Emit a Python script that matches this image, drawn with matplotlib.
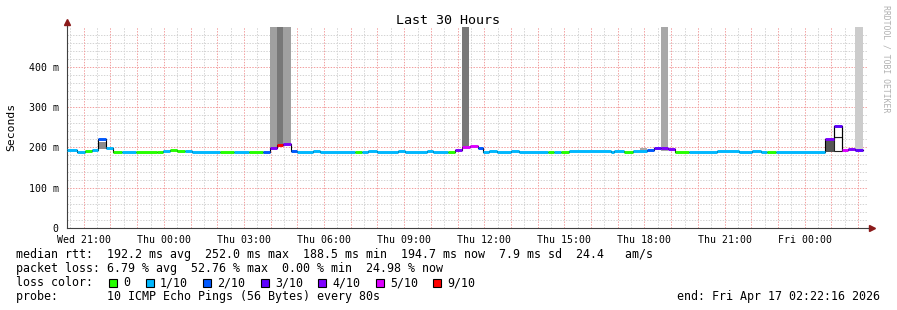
import numpy as np
import matplotlib.pyplot as plt
from matplotlib.ticker import FixedLocator, MultipleLocator, FuncFormatter

plt.rcParams['font.family'] = ['DejaVu Sans Mono']

W, H = 897, 310

# time axis: hours after the start of the window (Wed 20:22:16), 30 h span
start_clock = 20 + 22/60 + 16/3600
span = 30.0

# median rtt segments: start (h), median (ms), index into the loss colours
seg_t = [0.00, 0.37, 0.67, 0.94, 1.16, 1.46, 1.72, 2.06, 2.58, 3.37,
         3.60, 3.86, 4.12, 4.42, 4.68, 5.73, 6.25, 6.82, 7.34, 7.60,
         7.87, 8.09, 8.39, 8.61, 9.21, 9.48, 10.79, 11.05, 11.27, 11.61,
         12.40, 12.66, 13.48, 13.71, 14.27, 14.53, 14.79, 15.09, 15.39, 15.58,
         15.81, 16.10, 16.63, 16.93, 18.01, 18.24, 18.50, 18.80, 20.37, 20.49,
         20.86, 21.20, 21.72, 21.99, 22.25, 22.51, 22.77, 23.30, 24.34, 25.17,
         25.66, 25.99, 26.22, 26.55, 28.39, 28.73, 29.03, 29.25, 29.51]
seg_ms = [193.8, 189.0, 191.0, 194.0, 222.0, 198.0, 189.0, 189.0, 189.0, 188.5,
          191.0, 194.0, 191.0, 191.0, 189.0, 189.0, 189.0, 189.0, 189.0, 199.0,
          206.0, 209.0, 191.0, 189.0, 191.0, 189.0, 189.0, 189.0, 191.0, 189.0,
          191.0, 189.0, 191.0, 189.0, 189.0, 194.0, 201.0, 204.0, 198.0, 189.0,
          191.0, 189.0, 191.0, 189.0, 189.0, 189.0, 189.0, 191.0, 189.0, 191.0,
          189.0, 191.0, 194.0, 199.0, 198.0, 196.0, 189.0, 189.0, 191.0, 189.0,
          190.0, 188.5, 188.5, 189.0, 222.0, 252.0, 194.0, 196.0, 194.7]
seg_loss = [1, 1, 0, 1, 2, 1, 0, 1, 0, 0,
            1, 0, 0, 1, 1, 0, 1, 0, 2, 4,
            6, 4, 2, 1, 1, 1, 0, 1, 1, 1,
            1, 1, 1, 1, 0, 4, 5, 5, 2, 1,
            1, 1, 1, 1, 0, 1, 0, 1, 1, 1,
            0, 1, 2, 3, 4, 4, 0, 1, 1, 1,
            1, 1, 0, 1, 4, 3, 5, 4, 3]
data_end = 29.81

loss_labels = ["0", "1/10", "2/10", "3/10", "4/10", "5/10", "9/10"]
loss_colors = ["#26ff00", "#00b8ff", "#0059ff", "#5e00ff", "#7e00ff", "#dd00ff", "#ff0000"]

# smoke (spread of the pings): start (h), width (h), low/high (ms), shade
smoke_t = [1.16, 7.60, 7.87, 8.09, 14.79, 21.46, 22.25, 28.39, 28.73, 28.73, 29.51]
smoke_w = [0.30, 0.27, 0.22, 0.30, 0.27, 0.26, 0.26, 0.34, 0.30, 0.30, 0.30]
smoke_lo = [197, 199, 206, 209, 201, 191, 191, 189, 190, 226, 193]
smoke_hi = [213, 600, 600, 600, 600, 199, 600, 220, 226, 252, 600]
smoke_c = ["#8c8c8c", "#a0a0a0", "#787878", "#a0a0a0", "#787878", "#a8a8a8",
           "#a8a8a8", "#555555", "#ffffff", "#ffffff", "#cccccc"]
smoke_edge = ["none", "none", "none", "none", "none", "none",
              "none", "none", "#202020", "#202020", "none"]

fig = plt.figure(figsize=(W/100, H/100), dpi=100)
ax = fig.add_axes([67/W, 1-228/H, 801/W, 201/H])
ax.set_xlim(0, span)
ax.set_ylim(0, 499)

# grid
red = "#f2a0a0"
grey = "#d4d4d4"
dots = (0, (1.4, 1.4))
hours = [h - start_clock for h in range(21, 51)]
halfs = [h + 0.5 - start_clock for h in range(20, 51) if 0 < h + 0.5 - start_clock < span]
for x in halfs:
    ax.axvline(x, color=grey, lw=0.72, ls=dots, zorder=0)
for y in np.arange(20, 500, 20):
    if y % 100:
        ax.axhline(y, color=grey, lw=0.72, ls=dots, zorder=0)
for x in hours:
    ax.axvline(x, color=red, lw=0.72, ls=dots, zorder=0)
for y in [100, 200, 300, 400]:
    ax.axhline(y, color=red, lw=0.72, ls=dots, zorder=0)

# smoke
for t, w, lo, hi, c, e in zip(smoke_t, smoke_w, smoke_lo, smoke_hi, smoke_c, smoke_edge):
    ax.bar(t, hi - lo, width=w, bottom=lo, align='edge', color=c,
           edgecolor=e, linewidth=0.8 if e != "none" else 0, zorder=2)

# median line: thin black step plus loss coloured segments
seg_end = seg_t[1:] + [data_end]
ax.step(seg_t + [data_end], seg_ms + [seg_ms[-1]], where='post', color="#000000", lw=0.8, zorder=3)
ax.hlines(seg_ms, seg_t, seg_end, colors=[loss_colors[i] for i in seg_loss],
          linewidth=2.1, zorder=4, capstyle='butt')

# axes
for s in ['top', 'right']:
    ax.spines[s].set_visible(False)
for s in ['left', 'bottom']:
    ax.spines[s].set_color("#404040")
    ax.spines[s].set_linewidth(0.8)
ax.plot([0, 0], [1.0, 1.025], color="#404040", lw=0.8, transform=ax.transAxes, clip_on=False)
ax.plot([1.0, 1.004], [0, 0], color="#404040", lw=0.8, transform=ax.transAxes, clip_on=False)
ax.plot([0], [1.025], marker='^', color="#8b1a1a", ms=4, transform=ax.transAxes, clip_on=False)
ax.plot([1.005], [0], marker='>', color="#8b1a1a", ms=4, transform=ax.transAxes, clip_on=False)

days = {0: "Wed", 1: "Thu", 2: "Fri"}
lab_pos = [h - start_clock for h in range(21, 51, 3)]
lab_txt = ["%s %02d:00" % (days[h // 24], h % 24) for h in range(21, 51, 3)]
ax.xaxis.set_major_locator(FixedLocator(lab_pos))
ax.set_xticklabels(lab_txt)
ax.yaxis.set_major_locator(FixedLocator([0, 100, 200, 300, 400]))
ax.yaxis.set_major_formatter(FuncFormatter(lambda v, p: "0" if v == 0 else "%d m" % v))
ax.tick_params(axis='both', length=0, labelsize=7.1, colors="#000000")
ax.tick_params(axis='x', pad=5)
ax.tick_params(axis='y', pad=6)

# texts
fig.text(448/W, 1-20/H, "Last 30 Hours", ha='center', va='center', fontsize=9.6)
fig.text(11/W, 1-127/H, "Seconds", rotation=90, ha='center', va='center', fontsize=8.2)
fig.text(886/W, 1-59/H, "RRDTOOL / TOBI OETIKER", rotation=270, ha='center', va='center',
         fontsize=5.9, color="#b0b0b0")

fs = 8.4
fig.text(16/W, 1-254.5/H,
         "median rtt:  192.2 ms avg  252.0 ms max  188.5 ms min  194.7 ms now  7.9 ms sd  24.4   am/s",
         va='center', fontsize=fs)
fig.text(16/W, 1-268.5/H, "packet loss: 6.79 % avg  52.76 % max  0.00 % min  24.98 % now",
         va='center', fontsize=fs)
fig.text(16/W, 1-282.5/H, "loss color:", va='center', fontsize=fs)
bx = 109
for lab, col in zip(loss_labels, loss_colors):
    fig.patches.append(plt.Rectangle((bx/W, 1-286.5/H), 8/W, 8/H, transform=fig.transFigure,
                                     facecolor=col, edgecolor="#000000", linewidth=0.8))
    lx = bx + 14.5
    fig.text(lx/W, 1-282.5/H, lab, va='center', fontsize=fs)
    bx = lx + 7 * len(lab) + 15
fig.text(16/W, 1-296.5/H, "probe:       10 ICMP Echo Pings (56 Bytes) every 80s", va='center', fontsize=fs)
fig.text(880/W, 1-296.5/H, "end: Fri Apr 17 02:22:16 2026", ha='right', va='center', fontsize=fs)

fig.savefig("out.png", dpi=100, facecolor="white")
